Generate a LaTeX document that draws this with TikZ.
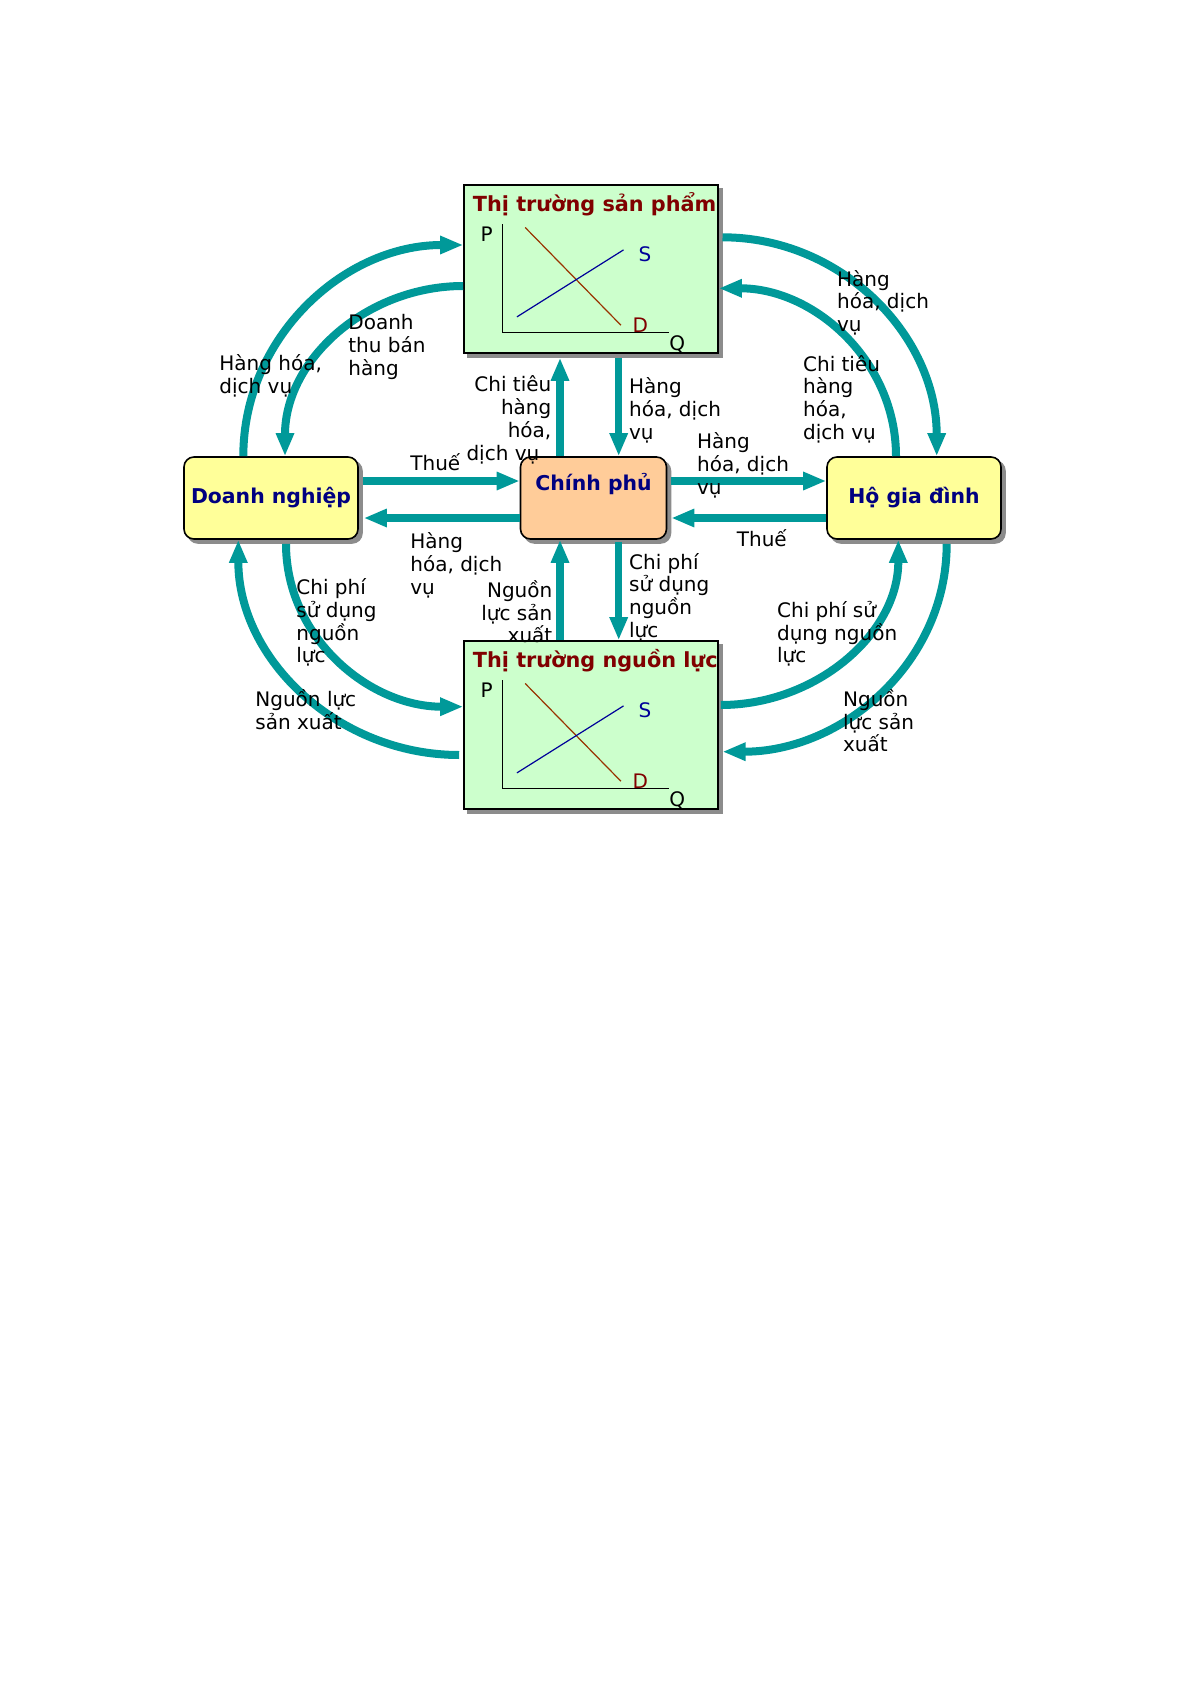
\documentclass[tikz,border=0pt]{standalone}
\usepackage{fontspec}
\setmainfont{DejaVu Sans}
\usetikzlibrary{arrows.meta,shadows}
\definecolor{flowcol}{HTML}{009999}
\definecolor{mktfill}{HTML}{CCFFCC}
\definecolor{agentfill}{HTML}{FFFF99}
\definecolor{govfill}{HTML}{FFCC99}
\definecolor{agenttext}{HTML}{000080}
\definecolor{mkttext}{HTML}{800000}
\definecolor{supplycol}{HTML}{000099}
\definecolor{demandcol}{HTML}{993300}
\begin{document}
\begin{tikzpicture}[
		x=0.5pt, y=0.5pt,
		box/.style={draw=black, line width=0.8pt, general shadow={fill=black!45, draw=black!45, shadow xshift=2pt, shadow yshift=-2pt}},
		market/.style={box, fill=mktfill, minimum width=127pt, minimum height=84pt},
		agent/.style={box, rounded corners=5pt, fill=agentfill, minimum width=87pt, minimum height=41pt, font=\fontsize{10.2}{12}\selectfont\bfseries, text=agenttext},
		flow/.style={draw=flowcol, line width=3.6pt, -{Triangle[length=11.5pt,width=8.5pt]}},
		bend flow/.style={flow, line width=4pt},
		lbl/.style={font=\fontsize{10}{11.35}\selectfont, align=left, inner sep=0pt, anchor=base west},
		mkttitle/.style={font=\fontsize{10.4}{12}\selectfont\bfseries, text=mkttext, inner sep=0pt, anchor=base west},
		chartlbl/.style={font=\fontsize{10}{12}\selectfont, inner sep=0pt}
		]
		\path[fill=white] (0,0) rectangle (1192,-1685);
		\node[market] (tm) at (591,-269) {};
		\node[market] (rm) at (591,-725) {};
		\node[agent] (dn) at (271,-498) {Doanh nghiệp};
		\node[agent, fill=govfill, minimum width=73pt, text height=8pt, text depth=16pt] (cp) at (593.5,-498) {Chính phủ};
		\node[agent] (hg) at (914,-498) {Hộ gia đình};
		\foreach \m/\t in {tm/Thị trường sản phẩm, rm/Thị trường nguồn lực}{
			\begin{scope}[shift={(\m.north west)}]
				\node[mkttitle] (\m-title) at (9.3,-27.7) {\t};
				\draw[line width=0.8pt] (39.3,-40) -- (39.3,-148.3) -- (206,-148.3);
				\draw[demandcol, line width=0.6pt] (62,-43.3) -- (157.7,-141);
				\draw[supplycol, line width=0.6pt] (53.7,-132.7) -- (160.3,-65.7);
				\node[chartlbl] (\m-p) at (23.5,-50) {P};
				\node[chartlbl] (\m-q) at (214,-160) {Q};
				\node[chartlbl, text=supplycol] (\m-s) at (181.8,-70) {S};
				\node[chartlbl, text=mkttext] (\m-d) at (177,-141) {D};
			\end{scope}
		}
		\draw[bend flow] ([xshift=-13.85pt]dn.north) to[out=90,in=180] ([yshift=12pt]tm.west);
		\draw[bend flow] ([yshift=-8.5pt]tm.west) to[out=180,in=90] ([xshift=7pt]dn.north);
		\draw[bend flow] ([xshift=1.85pt,yshift=15.85pt]tm.east) to[out=0,in=90] ([xshift=11.35pt]hg.north);
		\draw[bend flow] ([xshift=-9pt]hg.north) to[out=90,in=0] ([yshift=-9.65pt]tm.east);
		\draw[bend flow] ([xshift=7.5pt,yshift=-2pt]dn.south) to[out=-90,in=180] ([yshift=9.15pt]rm.west);
		\draw[bend flow] ([xshift=-2pt,yshift=-15pt]rm.west) to[out=180,in=-90] ([xshift=-16.35pt]dn.south);
		\draw[bend flow] ([xshift=1pt,yshift=10pt]rm.east) to[out=0,in=-90] ([xshift=-7.85pt]hg.south);
		\draw[bend flow] ([xshift=16.35pt,yshift=-2pt]hg.south) to[out=-90,in=0] ([xshift=1.85pt,yshift=-13.35pt]rm.east);
		\draw[flow] ([xshift=2pt,yshift=8.5pt]dn.east) -- ([yshift=8.5pt]cp.west);
		\draw[flow] ([yshift=-10pt]cp.west) -- ([xshift=2.5pt,yshift=-10pt]dn.east);
		\draw[flow] ([xshift=2pt,yshift=8.5pt]cp.east) -- ([yshift=8.5pt]hg.west);
		\draw[flow] ([yshift=-10pt]hg.west) -- ([xshift=2pt,yshift=-10pt]cp.east);
		\draw[flow] ([xshift=-16.75pt]cp.north) -- ([xshift=-15.5pt,yshift=-2pt]tm.south);
		\draw[flow] ([xshift=13.85pt,yshift=-2pt]tm.south) -- ([xshift=12.6pt]cp.north);
		\draw[flow] ([xshift=-15.5pt]rm.north) -- ([xshift=-16.75pt]cp.south);
		\draw[flow] ([xshift=12.6pt,yshift=-1pt]cp.south) -- ([xshift=13.85pt]rm.north);
		\node[lbl] (l-hh1) at (219,-393.3) {Hàng hóa,\\dịch vụ};
		\node[lbl] (l-dt) at (348,-375.3) {Doanh\\thu bán\\hàng};
		\node[lbl] (l-thue1) at (410,-470.7) {Thuế};
		\node[lbl, align=right, anchor=base east] (l-ct1) at (551.7,-460) {Chi tiêu\\hàng\\hóa,\\dịch vụ\hspace*{6pt}};
		\node[lbl] (l-hh2) at (628.7,-439.3) {Hàng\\hóa, dịch\\vụ};
		\node[lbl] (l-hh3) at (696.7,-494.3) {Hàng\\hóa, dịch\\vụ};
		\node[lbl] (l-hh4) at (836.7,-331.7) {Hàng\\hóa, dịch\\vụ};
		\node[lbl] (l-ct2) at (802.7,-439.3) {Chi tiêu\\hàng\\hóa,\\dịch vụ};
		\node[lbl] (l-hh5) at (410,-594.3) {Hàng\\hóa, dịch\\vụ};
		\node[lbl] (l-thue2) at (736.5,-546.5) {Thuế};
		\node[lbl, align=right, anchor=base east] (l-nl1) at (552.7,-642.7) {Nguồn\\lực sản\\xuất};
		\node[lbl] (l-cp1) at (628.7,-637.3) {Chi phí\\sử dụng\\nguồn\\lực};
		\node[lbl] (l-cp2) at (296,-662.7) {Chi phí\\sử dụng\\nguồn\\lực};
		\node[lbl] (l-nl2) at (255,-729.3) {Nguồn lực\\sản xuất};
		\node[lbl] (l-cp3) at (776.7,-662.7) {Chi phí sử\\dụng nguồn\\lực};
		\node[lbl] (l-nl3) at (842.7,-751.7) {Nguồn\\lực sản\\xuất};
	\end{tikzpicture}
\end{document}
